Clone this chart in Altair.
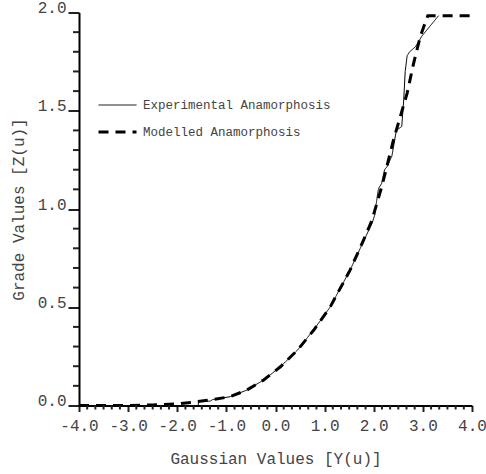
import altair as alt
import pandas as pd

# ---- data ----
exp_x = [-4.0, -3.0, -2.0, -1.57, -1.57, -1.33, -1.28, -0.92, -0.58, -0.24, 0.10, 0.44, 0.78,
         1.11, 1.52, 1.80, 1.97, 2.02, 2.08, 2.10, 2.16, 2.22, 2.27, 2.37, 2.46, 2.57, 2.61,
         2.64, 2.68, 2.73, 2.85, 2.98, 3.32]
exp_z = [0.0, 0.0, 0.0, 0.0, 0.022, 0.022, 0.03, 0.045, 0.079, 0.13, 0.197, 0.28, 0.386,
         0.50, 0.69, 0.84, 0.93, 0.97, 1.08, 1.105, 1.13, 1.20, 1.215, 1.27, 1.40, 1.42, 1.555,
         1.70, 1.78, 1.80, 1.826, 1.88, 1.984]

mod_x = [-4.0, -3.0, -2.5, -2.0, -1.7, -1.27, -0.92, -0.58, -0.24, 0.10, 0.44, 0.78, 1.11,
         1.52, 1.79, 1.96, 2.10, 2.17, 2.40, 2.54, 2.68, 2.81, 2.95, 3.05, 3.10, 4.0]
mod_z = [0.0, 0.0, 0.003, 0.008, 0.016, 0.03, 0.045, 0.079, 0.13, 0.197, 0.28, 0.384, 0.50,
         0.69, 0.84, 0.94, 1.06, 1.12, 1.35, 1.47, 1.59, 1.74, 1.88, 1.95, 1.984, 1.984]

series_names = ["Experimental Anamorphosis", "Modelled Anamorphosis"]

x_major = [-4.0, -3.0, -2.0, -1.0, 0.0, 1.0, 2.0, 3.0, 4.0]
x_minor = [round(-4 + i / 6, 4) for i in range(49) if i % 6 != 0]
y_major = [0.0, 0.5, 1.0, 1.5, 2.0]
y_minor = [round(i / 10, 2) for i in range(21) if i % 5 != 0]

rows = []
for i, (a, b) in enumerate(zip(exp_x, exp_z)):
    rows.append({"x": a, "z": b, "series": series_names[0], "idx": i})
for i, (a, b) in enumerate(zip(mod_x, mod_z)):
    rows.append({"x": a, "z": b, "series": series_names[1], "idx": i})
df = pd.DataFrame(rows)

PLOT_W, PLOT_H = 393, 393
FONT = "Liberation Mono"
TXT = "#444444"
TICK_C = "#222222"
TICK_W = 2
x_scale = alt.Scale(domain=[-4, 4], nice=False, zero=False)
y_scale = alt.Scale(domain=[0, 2], nice=False, zero=False)
lab_fmt = "(datum.value < 0 ? '-' : '') + format(abs(datum.value), '.1f')"

legend = alt.Legend(
    title=None, orient="none", legendX=18, legendY=73,
    symbolType="stroke", symbolSize=1444, symbolStrokeColor="black",
    labelFont=FONT, labelFontSize=12.5, labelColor=TXT, labelOffset=5, labelLimit=0,
    rowPadding=0, padding=0,
)

x_axis = alt.Axis(
    values=x_major, orient="bottom", domain=True, domainColor="black", domainWidth=2,
    ticks=True, tickSize=6, tickColor=TICK_C, tickWidth=TICK_W, grid=False,
    labelExpr=lab_fmt, labelFont=FONT, labelFontSize=16, labelColor=TXT,
    labelPadding=18.5, labelBaseline="alphabetic", labelFlush=False, labelOverlap=False,
    title="Gaussian Values [Y(u)]", titleFont=FONT, titleFontSize=16,
    titleFontWeight="normal", titleColor=TXT, titleBaseline="alphabetic", titleY=57.5)
y_axis = alt.Axis(
    values=y_major, orient="left", domain=True, domainColor="black", domainWidth=2,
    ticks=True, tickSize=11, tickColor=TICK_C, tickWidth=TICK_W, grid=False,
    labelExpr=lab_fmt, labelFont=FONT, labelFontSize=16, labelColor=TXT,
    labelPadding=2, labelBaseline="alphabetic", labelAlign="right",
    labelFlush=False, labelOverlap=False,
    title="Grade Values [Z(u)]", titleFont=FONT, titleFontSize=16,
    titleFontWeight="normal", titleColor=TXT, titleAngle=270,
    titleBaseline="alphabetic", titleAlign="center", titleX=-56, titleY=196.5)

lines = alt.Chart(df).mark_line(color="black", strokeCap="butt").encode(
    x=alt.X("x:Q", scale=x_scale, axis=x_axis),
    y=alt.Y("z:Q", scale=y_scale, axis=y_axis),
    strokeDash=alt.StrokeDash("series:N", scale=alt.Scale(domain=series_names, range=[[1, 0], [10, 7]]), legend=legend),
    strokeWidth=alt.StrokeWidth("series:N", scale=alt.Scale(domain=series_names, range=[1, 3]), legend=legend),
    order="idx:Q",
)

# minor tick marks (axis furniture), positioned through the shared scales
def xticks(values, length):
    return alt.Chart(pd.DataFrame({"v": values})).mark_rule(color=TICK_C, strokeWidth=TICK_W).encode(
        x=alt.X("v:Q", scale=x_scale, axis=x_axis),
        y=alt.value(PLOT_H), y2=alt.value(PLOT_H + length),
    )

def yticks(values, length):
    return alt.Chart(pd.DataFrame({"v": values})).mark_rule(color=TICK_C, strokeWidth=TICK_W).encode(
        y=alt.Y("v:Q", scale=y_scale, axis=y_axis),
        x=alt.value(0), x2=alt.value(-length),
    )

chart = alt.layer(
    lines, xticks(x_minor, 4), yticks(y_minor, 6)
).properties(
    width=PLOT_W, height=PLOT_H,
    autosize=alt.AutoSizeParams(type="none"),
    padding={"left": 79, "top": 12.5, "right": 14, "bottom": 68.5},
    background="white",
).configure_view(stroke=None)

chart.save("out.html", embed_options={"renderer": "svg", "actions": False})
